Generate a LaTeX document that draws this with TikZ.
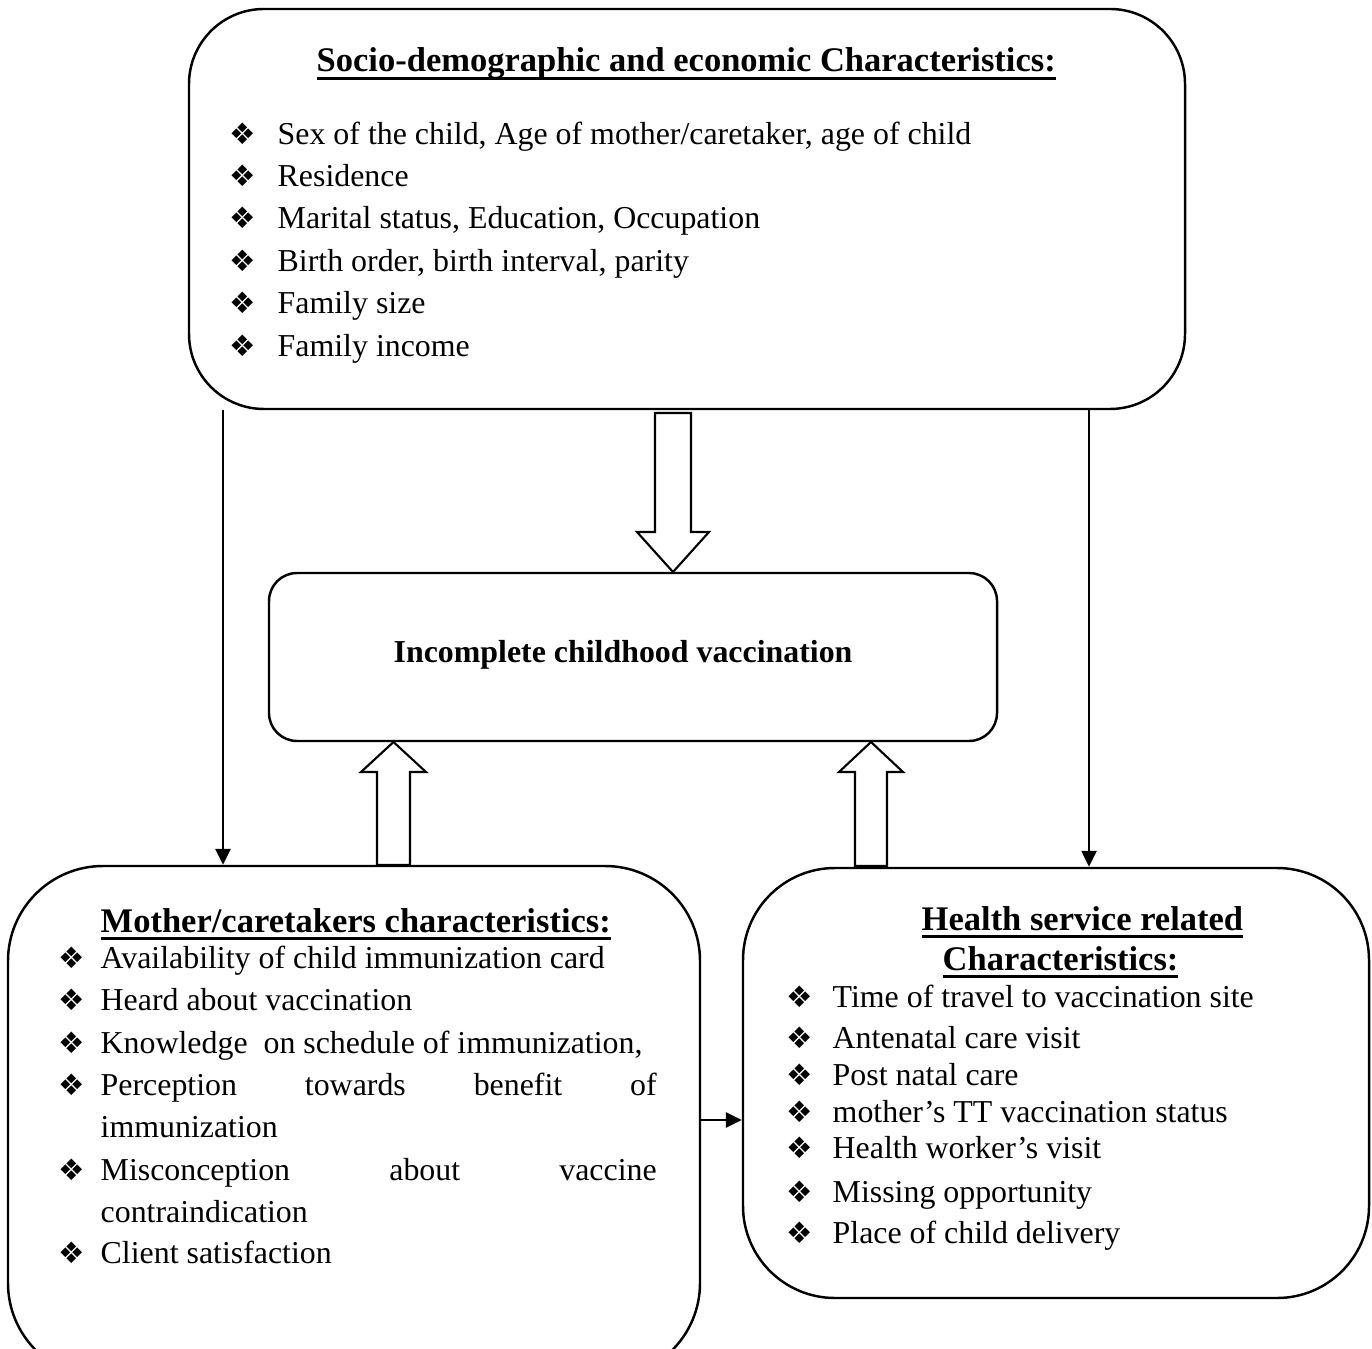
\documentclass[tikz,border=0pt]{standalone}
\usepackage{fontspec}
\setmainfont{Liberation Serif}
\newfontfamily\symfont{DejaVu Sans}
\usetikzlibrary{arrows.meta}

\newcommand{\body}{\fontsize{9.07}{11}\selectfont}
\newcommand{\head}{\fontsize{9.82}{12}\selectfont\bfseries}
\newcommand{\dia}{{\symfont\fontsize{8.4}{8}\selectfont ❖}}
\newcommand{\itm}[2]{\makebox[#1][l]{\dia}#2}
\newcommand{\undl}[1]{\setbox0\hbox{#1}\rlap{\rule[-2.2pt]{\wd0}{0.9pt}}\box0}

\tikzset{
  box/.style={draw, line width=0.7pt, inner sep=0pt},
  lst/.style={anchor=base west, inner sep=0pt, font=\body},
  ttl/.style={anchor=base west, inner sep=0pt, font=\head},
  thinarr/.style={line width=0.75pt, -{Triangle[length=0.16cm,width=0.15cm]}},
  blockarr/.style={draw, line width=0.6pt, fill=white}
}

\begin{document}
\begin{tikzpicture}
\useasboundingbox (0,0) rectangle (13.72,-13.49);
\clip (0,0) rectangle (13.72,-13.49);

% boxes
\node[box, rounded corners=0.75cm, minimum width=9.96cm, minimum height=4cm] (socio) at (6.87,-2.09) {};
\node[box, rounded corners=0.28cm, minimum width=7.28cm, minimum height=1.68cm] (incomplete) at (6.33,-6.57) {};
\node[box, rounded corners=0.95cm, minimum width=6.92cm, minimum height=5.12cm] (mother) at (3.54,-11.22) {};
\node[box, rounded corners=0.92cm, minimum width=6.26cm, minimum height=4.30cm] (health) at (10.56,-10.83) {};

% socio-demographic
\node[ttl] (sociott) at (3.16,-0.72) {\undl{Socio-demographic and economic Characteristics:}};
\node[lst] (s1) at (2.29,-1.45) {\itm{0.48cm}{Sex of the child, Age of mother/caretaker, age of child}};
\node[lst] (s2) at (2.29,-1.87) {\itm{0.48cm}{Residence}};
\node[lst] (s3) at (2.29,-2.29) {\itm{0.48cm}{Marital status, Education, Occupation}};
\node[lst] (s4) at (2.29,-2.72) {\itm{0.48cm}{Birth order, birth interval, parity}};
\node[lst] (s5) at (2.29,-3.14) {\itm{0.48cm}{Family size}};
\node[lst] (s6) at (2.29,-3.57) {\itm{0.48cm}{Family income}};

% outcome
\node[lst] (incompletett) at (3.93,-6.63) {\textbf{Incomplete childhood vaccination}};

% mother/caretaker
\node[ttl] (mothertt) at (1.00,-9.32) {\undl{Mother/caretakers characteristics:}};
\node[lst] (m1) at (0.58,-9.68) {\itm{0.42cm}{Availability of child immunization card}};
\node[lst] (m2) at (0.58,-10.10) {\itm{0.42cm}{Heard about vaccination}};
\node[lst] (m3) at (0.58,-10.53) {\itm{0.42cm}{Knowledge\ \ on schedule of immunization,}};
\node[lst] (m4) at (0.58,-10.95) {\itm{0.42cm}{\makebox[5.56cm][s]{Perception towards benefit of}}};
\node[lst] (m4b) at (1.00,-11.37) {immunization};
\node[lst] (m5) at (0.58,-11.80) {\itm{0.42cm}{\makebox[5.56cm][s]{Misconception about vaccine}}};
\node[lst] (m5b) at (1.00,-12.22) {contraindication};
\node[lst] (m6) at (0.58,-12.63) {\itm{0.42cm}{Client satisfaction}};

% health service
\node[ttl] (healthtt) at (9.21,-9.30) {\undl{Health service related}};
\node[ttl] (healthttb) at (9.42,-9.70) {\undl{Characteristics:}};
\node[lst] (h1) at (7.86,-10.07) {\itm{0.46cm}{Time of travel to vaccination site}};
\node[lst] (h2) at (7.86,-10.48) {\itm{0.46cm}{Antenatal care visit}};
\node[lst] (h3) at (7.86,-10.85) {\itm{0.46cm}{Post natal care}};
\node[lst] (h4) at (7.86,-11.22) {\itm{0.46cm}{mother’s TT vaccination status}};
\node[lst] (h5) at (7.86,-11.58) {\itm{0.46cm}{Health worker’s visit}};
\node[lst] (h6) at (7.86,-12.02) {\itm{0.46cm}{Missing opportunity}};
\node[lst] (h7) at (7.86,-12.43) {\itm{0.46cm}{Place of child delivery}};

% block arrows
\draw[blockarr] (6.55,-4.13) -- (6.91,-4.13) -- (6.91,-5.32) -- (7.09,-5.32) -- (6.73,-5.72) -- (6.37,-5.32) -- (6.55,-5.32) -- cycle;
\draw[blockarr] (3.77,-8.65) -- (4.10,-8.65) -- (4.10,-7.72) -- (4.26,-7.72) -- (3.935,-7.42) -- (3.61,-7.72) -- (3.77,-7.72) -- cycle;
\draw[blockarr] (8.55,-8.66) -- (8.87,-8.66) -- (8.87,-7.72) -- (9.03,-7.72) -- (8.71,-7.42) -- (8.39,-7.72) -- (8.55,-7.72) -- cycle;

% thin arrows
\coordinate (lx) at (2.23,0);
\coordinate (rx) at (10.89,0);
\coordinate (my) at (0,-11.20);
\draw[thinarr] (socio.south -| lx) -- (mother.north -| lx);
\draw[thinarr] (socio.south -| rx) -- (health.north -| rx);
\draw[thinarr] (mother.east |- my) -- (health.west |- my);
\end{tikzpicture}
\end{document}
